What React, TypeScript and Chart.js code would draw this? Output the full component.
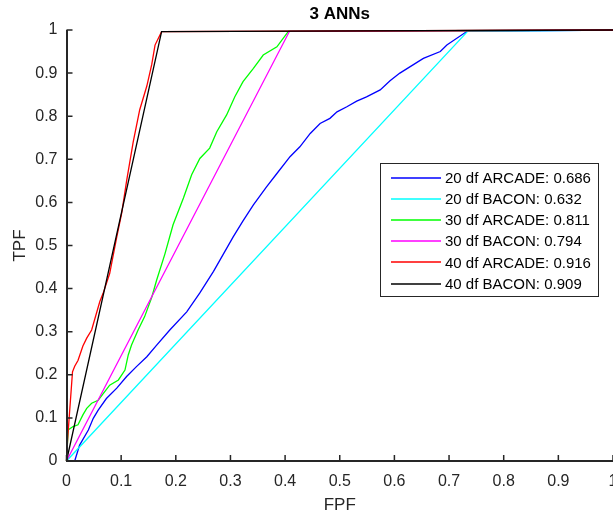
import { useEffect, useRef } from 'react';
import { Chart, registerables } from 'chart.js';

Chart.register(...registerables);

const W = 613;
const H = 517;

const titleText = '3 ANNs';
const xAxisLabel = 'FPF';
const yAxisLabel = 'TPF';

const tickValues = [0, 0.1, 0.2, 0.3, 0.4, 0.5, 0.6, 0.7, 0.8, 0.9, 1];
const xTickLabels = ['0', '0.1', '0.2', '0.3', '0.4', '0.5', '0.6', '0.7', '0.8', '0.9', '1'];
const yTickLabels = ['0', '0.1', '0.2', '0.3', '0.4', '0.5', '0.6', '0.7', '0.8', '0.9', '1'];

const seriesNames = ['20 df ARCADE', '20 df BACON', '30 df ARCADE', '30 df BACON', '40 df ARCADE', '40 df BACON'];
const aucValues = ['0.686', '0.632', '0.811', '0.794', '0.916', '0.909'];
const seriesColors = ['#0000ff', '#00ffff', '#00ff00', '#ff00ff', '#ff0000', '#000000'];

const arcade20X = [0, 0.015, 0.024, 0.040, 0.049, 0.058, 0.073, 0.092, 0.110, 0.128, 0.147, 0.165, 0.189, 0.220, 0.244, 0.269, 0.287, 0.305, 0.323, 0.342, 0.366, 0.385, 0.409, 0.427, 0.446, 0.464, 0.482, 0.495, 0.513, 0.531, 0.549, 0.574, 0.592, 0.610, 0.653, 0.684, 0.696, 0.733, 1];
const arcade20Y = [0, 0, 0.037, 0.072, 0.099, 0.118, 0.145, 0.169, 0.196, 0.219, 0.242, 0.269, 0.304, 0.346, 0.390, 0.440, 0.480, 0.520, 0.557, 0.594, 0.636, 0.667, 0.706, 0.729, 0.760, 0.783, 0.795, 0.810, 0.822, 0.835, 0.845, 0.861, 0.882, 0.900, 0.934, 0.950, 0.965, 0.997, 1];

const bacon20X = [0, 0.734, 1];
const bacon20Y = [0, 0.997, 1];

const arcade30X = [0, 0.003, 0.012, 0.021, 0.030, 0.037, 0.046, 0.058, 0.070, 0.079, 0.095, 0.107, 0.113, 0.119, 0.131, 0.143, 0.156, 0.165, 0.180, 0.195, 0.214, 0.229, 0.244, 0.262, 0.275, 0.293, 0.308, 0.323, 0.342, 0.360, 0.385, 0.406, 1];
const arcade30Y = [0, 0.072, 0.080, 0.084, 0.107, 0.122, 0.134, 0.141, 0.161, 0.176, 0.188, 0.211, 0.246, 0.269, 0.304, 0.335, 0.380, 0.420, 0.480, 0.548, 0.610, 0.664, 0.702, 0.726, 0.764, 0.803, 0.845, 0.880, 0.911, 0.942, 0.961, 0.997, 1];

const bacon30X = [0, 0.408, 1];
const bacon30Y = [0, 0.997, 1];

const arcade40X = [0, 0.002, 0.011, 0.015, 0.021, 0.030, 0.037, 0.046, 0.061, 0.067, 0.079, 0.092, 0.101, 0.110, 0.122, 0.134, 0.147, 0.156, 0.162, 0.174, 1];
const arcade40Y = [0, 0.050, 0.207, 0.220, 0.233, 0.267, 0.285, 0.304, 0.370, 0.389, 0.435, 0.520, 0.575, 0.650, 0.740, 0.815, 0.870, 0.920, 0.965, 0.996, 1];

const bacon40X = [0, 0.174, 1];
const bacon40Y = [0, 0.996, 1];

const seriesX = [arcade20X, bacon20X, arcade30X, bacon30X, arcade40X, bacon40X];
const seriesY = [arcade20Y, bacon20Y, arcade30Y, bacon30Y, arcade40Y, bacon40Y];

const FONT = '"Liberation Sans", Arial, sans-serif';
const TEXT_COLOR = '#262626';

const overlayPlugin = {
  id: 'matlabOverlay',
  afterDraw(chart: any) {
    const ctx = chart.ctx as CanvasRenderingContext2D;
    const area = chart.chartArea;
    const xs = chart.scales.x;
    const ys = chart.scales.y;
    ctx.save();

    // axes lines
    ctx.strokeStyle = TEXT_COLOR;
    ctx.lineWidth = 2;
    ctx.beginPath();
    ctx.moveTo(Math.round(area.left), area.top);
    ctx.lineTo(Math.round(area.left), Math.round(area.bottom));
    ctx.lineTo(area.right, Math.round(area.bottom));
    ctx.stroke();

    // inward ticks
    ctx.lineWidth = 1.5;
    ctx.beginPath();
    tickValues.forEach((v) => {
      const px = xs.getPixelForValue(v);
      ctx.moveTo(px, area.bottom);
      ctx.lineTo(px, area.bottom - 6);
      const py = ys.getPixelForValue(v);
      ctx.moveTo(area.left, py);
      ctx.lineTo(area.left + 6, py);
    });
    ctx.stroke();

    const cx = (area.left + area.right) / 2;
    // title
    ctx.fillStyle = '#000';
    ctx.font = `bold 17px ${FONT}`;
    ctx.textAlign = 'center';
    ctx.textBaseline = 'middle';
    ctx.fillText(titleText, cx, 14);

    // axis labels
    ctx.fillStyle = TEXT_COLOR;
    ctx.font = `17px ${FONT}`;
    ctx.fillText(xAxisLabel, cx, 505);
    ctx.save();
    ctx.translate(20, (area.top + area.bottom) / 2);
    ctx.rotate(-Math.PI / 2);
    ctx.fillText(yAxisLabel, 0, 0);
    ctx.restore();

    // legend
    const bx = 380.5, by = 163.5, bw = 218, bh = 133;
    ctx.fillStyle = '#fff';
    ctx.fillRect(bx, by, bw, bh);
    ctx.strokeStyle = '#262626';
    ctx.lineWidth = 1;
    ctx.strokeRect(bx, by, bw, bh);
    ctx.font = `15px ${FONT}`;
    ctx.textAlign = 'left';
    ctx.textBaseline = 'middle';
    seriesNames.forEach((name, i) => {
      const yy = 178 + i * 21.1;
      ctx.strokeStyle = seriesColors[i];
      ctx.lineWidth = 1.5;
      ctx.beginPath();
      ctx.moveTo(391, Math.round(yy));
      ctx.lineTo(441, Math.round(yy));
      ctx.stroke();
      ctx.fillStyle = '#000';
      ctx.fillText(`${name}: ${aucValues[i]}`, 445, yy + 1);
    });

    ctx.restore();
  },
};

export default function App() {
  const ref = useRef<HTMLCanvasElement>(null);
  useEffect(() => {
    const datasets = seriesNames.map((name, i) => ({
      label: `${name}: ${aucValues[i]}`,
      data: seriesX[i].map((x, j) => ({ x, y: seriesY[i][j] })),
      borderColor: seriesColors[i],
      backgroundColor: seriesColors[i],
      borderWidth: 1.3,
      pointRadius: 0,
      tension: 0,
      fill: false,
      clip: false as any,
      order: seriesNames.length - i,
    }));
    const chart = new Chart(ref.current!, {
      type: 'line',
      data: { datasets },
      options: {
        responsive: false,
        animation: false,
        devicePixelRatio: 1,
        parsing: false as any,
        layout: { padding: { top: 30, left: 0, right: 0, bottom: 0 } },
        plugins: {
          legend: { display: false },
          tooltip: { enabled: false },
          title: { display: false },
        },
        scales: {
          x: {
            type: 'linear',
            min: 0,
            max: 1,
            grid: { display: false, drawTicks: false },
            border: { display: false },
            afterBuildTicks: (s: any) => {
              s.ticks = tickValues.map((v) => ({ value: v }));
            },
            afterFit: (s: any) => {
              s.height = 56;
              s.paddingLeft = 0;
              s.paddingRight = 0;
            },
            ticks: {
              autoSkip: false,
              maxRotation: 0,
              padding: 11,
              color: TEXT_COLOR,
              font: { family: FONT, size: 16 },
              callback: (_v: any, i: number) => xTickLabels[i],
            },
          },
          y: {
            type: 'linear',
            min: 0,
            max: 1,
            grid: { display: false, drawTicks: false },
            border: { display: false },
            afterBuildTicks: (s: any) => {
              s.ticks = tickValues.map((v) => ({ value: v }));
            },
            afterFit: (s: any) => {
              s.width = 66.5;
              s.paddingTop = 0;
              s.paddingBottom = 0;
            },
            ticks: {
              autoSkip: false,
              padding: 9,
              color: TEXT_COLOR,
              font: { family: FONT, size: 16 },
              callback: (_v: any, i: number) => yTickLabels[i],
            },
          },
        },
      },
      plugins: [overlayPlugin],
    });
    return () => chart.destroy();
  }, []);
  return (
    <div style={{ position: 'absolute', left: 0, top: 0, width: W, height: H, background: '#fff' }}>
      <canvas ref={ref} width={W} height={H} style={{ display: 'block', width: W, height: H }} />
    </div>
  );
}
